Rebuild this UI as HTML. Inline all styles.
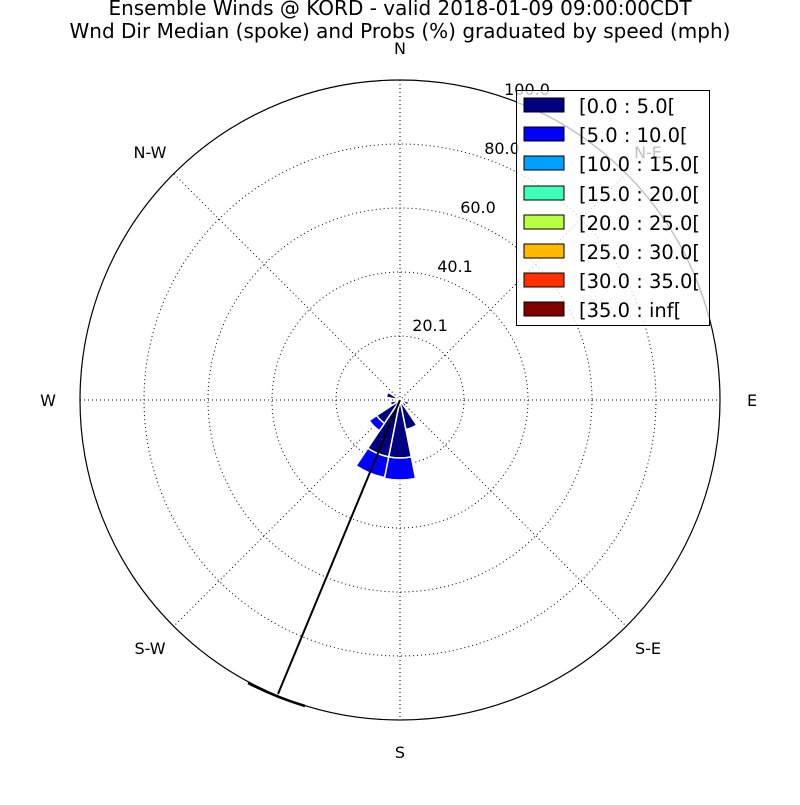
<!DOCTYPE html>
<html><head><meta charset="utf-8"><style>
html,body{margin:0;padding:0;background:#fff;}
svg text{font-family:"DejaVu Sans","Liberation Sans",sans-serif;}
</style></head><body>
<svg id="s" width="800" height="800" viewBox="0 0 800 800" xmlns="http://www.w3.org/2000/svg">
<rect width="800" height="800" fill="#fff"/>
<text x="400" y="15" font-size="20" text-anchor="middle">Ensemble Winds @ KORD - valid 2018-01-09 09:00:00CDT</text>
<text x="400" y="38" font-size="20" text-anchor="middle">Wnd Dir Median (spoke) and Probs (%) graduated by speed (mph)</text>
<g id="grid" stroke="#000" stroke-width="1" stroke-dasharray="1,3" fill="none">
<circle cx="400" cy="400" r="64"/><circle cx="400" cy="400" r="128"/><circle cx="400" cy="400" r="192"/><circle cx="400" cy="400" r="256"/>
<line x1="80" y1="400" x2="720" y2="400"/><line x1="400" y1="80" x2="400" y2="720"/>
<line x1="174" y1="174" x2="626" y2="626"/><line x1="626" y1="174" x2="174" y2="626"/>
</g>
<g id="bars" stroke="#fff" stroke-width="1.5"></g>
<line x1="400" y1="400" x2="278" y2="694" stroke="#000" stroke-width="2"/>
<path d="M248,683 A320,320 0 0 0 305,706" stroke="#000" stroke-width="2.5" fill="none"/>
<circle cx="400" cy="400" r="320" fill="none" stroke="#000" stroke-width="1.2"/>
<g font-size="16" text-anchor="middle">
<text x="400" y="54">N</text><text x="752" y="406">E</text>
<text x="648" y="654">S-E</text><text x="400" y="758">S</text><text x="150" y="654">S-W</text>
<text x="48" y="406">W</text><text x="150" y="158">N-W</text>
<text x="430" y="331">20.1</text><text x="455" y="272">40.1</text><text x="478" y="213">60.0</text>
<text x="502" y="154">80.0</text><text x="527" y="95">100.0</text>
</g>
<rect x="516.5" y="90.5" width="193" height="235" fill="#fff" fill-opacity="0.5" stroke="#000" stroke-width="1"/>
<path d="M527,106 A320,320 0 0 1 709,318" stroke="#808080" stroke-width="1.2" fill="none" transform="translate(0,0)"/>
<text x="648" y="158" font-size="16" text-anchor="middle" fill="#808080">N-E</text>
<rect x="517" y="91" width="192" height="234" fill="#fff" fill-opacity="0.5"/>
<rect x="516.5" y="90.5" width="193" height="235" fill="none" stroke="#000" stroke-width="1"/>
<g stroke="#000" stroke-width="1">
<rect x="524" y="98" width="40" height="14" fill="#000080"/>
<rect x="524" y="127" width="40" height="14" fill="#0000ff"/>
<rect x="524" y="156" width="40" height="14" fill="#00a0ff"/>
<rect x="524" y="186" width="40" height="14" fill="#40ffb7"/>
<rect x="524" y="215" width="40" height="14" fill="#b7ff40"/>
<rect x="524" y="244" width="40" height="14" fill="#ffb900"/>
<rect x="524" y="273" width="40" height="14" fill="#ff3000"/>
<rect x="524" y="302" width="40" height="14" fill="#800000"/>
</g>
<g font-size="19.5">
<text x="579" y="113">[0.0 : 5.0[</text>
<text x="579" y="142">[5.0 : 10.0[</text>
<text x="579" y="171">[10.0 : 15.0[</text>
<text x="579" y="201">[15.0 : 20.0[</text>
<text x="579" y="230">[20.0 : 25.0[</text>
<text x="579" y="259">[25.0 : 30.0[</text>
<text x="579" y="288">[30.0 : 35.0[</text>
<text x="579" y="317">[35.0 : inf[</text>
</g>
</svg>
<script>
(function(){
var g=document.getElementById('bars');
function pt(a,r){var t=a*Math.PI/180;return [400+r*Math.sin(t),400-r*Math.cos(t)];}
function sec(a,r0,r1,col){
 var a0=a-11.25,a1=a+11.25;
 var p1=pt(a0,r0),p2=pt(a0,r1),p3=pt(a1,r1),p4=pt(a1,r0);
 var d='M'+p1+' L'+p2+' A'+r1+','+r1+' 0 0 1 '+p3+' L'+p4;
 if(r0>0)d+=' A'+r0+','+r0+' 0 0 0 '+p1;
 d+='Z';
 var e=document.createElementNS('http://www.w3.org/2000/svg','path');
 e.setAttribute('d',d);e.setAttribute('fill',col);g.appendChild(e);
}
var D='#000080',B='#0000ff';
sec(180,0,58,D);sec(180,58,80,B);
sec(202.5,0,58,D);sec(202.5,58,79,B);
sec(225,0,28,D);sec(225,28,37,B);
sec(157.5,0,30,D);
sec(292.5,0,14,D);
sec(247.5,0,10,D);
sec(112.5,0,9,D);
sec(135,0,8,D);
sec(270,0,6,D);
})();
</script>
</body></html>
